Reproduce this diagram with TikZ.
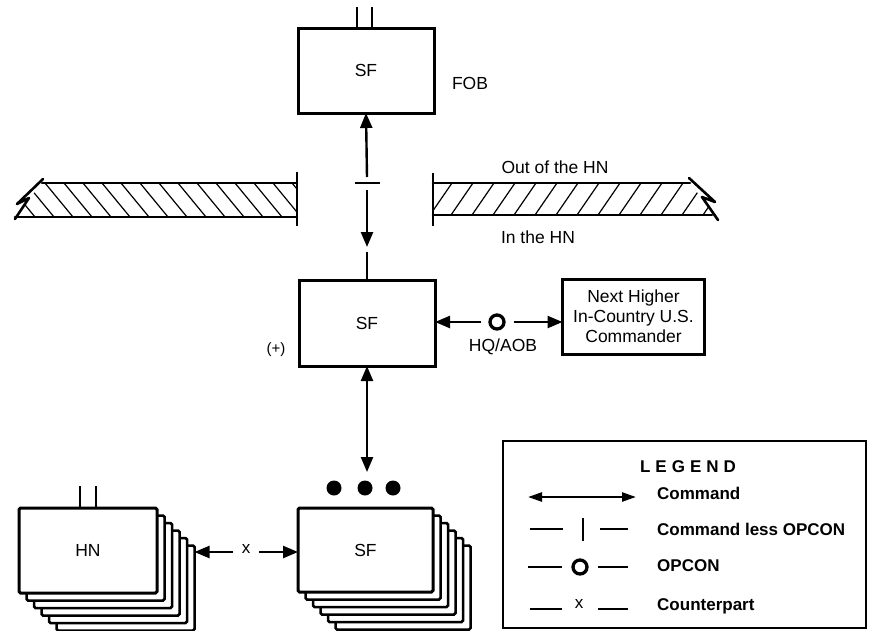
\documentclass[tikz,border=0pt]{standalone}
\usepackage{fontspec}
\setmainfont{Liberation Sans}
\usetikzlibrary{arrows.meta}
\begin{document}
\begin{tikzpicture}[x=1pt,y=-1pt,
  txt/.style={font=\fontsize{17.5}{21}\selectfont, inner sep=0pt},
  box/.style={draw, line width=3pt, fill=white, inner sep=0pt, outer sep=0pt, font=\fontsize{17.5}{21}\selectfont, align=center},
  card/.style={draw, line width=2.5pt, fill=white, inner sep=0pt, outer sep=0pt, rounded corners=1.5pt},
  leg/.style={font=\bfseries\fontsize{17}{21}\selectfont, inner sep=0pt, anchor=west},
  link/.style={line width=2.4pt},
  tk/.style={line width=2.8pt},
  edge/.style={line width=2.6pt, line cap=round, line join=round},
  hatch/.style={line width=1.2pt},
  tipe/.style={-{Triangle[length=15pt,width=12pt]}},
  both/.style={{Triangle[length=15pt,width=12pt]}-{Triangle[length=15pt,width=12pt]}},
  legboth/.style={{Triangle[length=14pt,width=9pt]}-{Triangle[length=14pt,width=9pt]}},
  opcon/.style={circle, draw, line width=3.3pt, minimum size=14pt, inner sep=0pt},
]
\useasboundingbox (0,0) rectangle (870,630);

% ---------- boundary bars ----------
\begin{scope}
  \clip (42,183) -- (297,183) -- (297,217) -- (15,217) -- cycle;
  \foreach \k in {0,...,17} \draw[hatch] (7+19*\k,183) -- ++(28,34);
\end{scope}
\draw[edge] (42,183) -- (297,183);
\draw[edge] (15,217) -- (297,217);
\draw[line width=2.8pt] (297,172) -- (297,226);
\draw[edge] (43,179) -- (17,204) -- (29,198) -- (15,219);

\begin{scope}
  \clip (433,183) -- (690,183) -- (714,215) -- (433,215) -- cycle;
  \foreach \k in {0,...,15} \draw[hatch] (430+21*\k,215) -- ++(22,-32);
\end{scope}
\draw[edge] (433,183) -- (690,183);
\draw[edge] (433,215) -- (712,215);
\draw[line width=2.8pt] (433,173) -- (433,226);
\draw[edge] (689,178) -- (715,202) -- (702,197) -- (718,220);

\node[txt] (out) at (555,167) {Out of the HN};
\node[txt] (in) at (538,237) {In the HN};

% ---------- top SF ----------
\node[box, minimum width=136pt, minimum height=85pt] (topsf) at (366,70.5) {SF};
\draw[tk] ([xshift=-9pt]topsf.north) -- ++(0,-21);
\draw[tk] ([xshift=6pt]topsf.north) -- ++(0,-21);
\node[txt] (fob) at (470,83) {FOB};

% ---------- middle SF ----------
\node[box, minimum width=136pt, minimum height=86pt] (midsf) at (367,323) {SF};
\node[txt, font=\fontsize{15}{18}\selectfont] (plus) at (276,350) {(+)};

\coordinate (a1) at (367,177);
\coordinate (a2) at (367,190);
\coordinate (a3) at (367,247);
\coordinate (a4) at (367,252);
\coordinate (tick) at (367,183);
\draw[link,tipe] (a1) -- (topsf.south);
\draw[tk] ([xshift=-12pt]tick) -- ([xshift=13pt]tick);
\draw[link,tipe] (a2) -- (a3);
\draw[link] (a4) -- (midsf.north);

% ---------- next higher ----------
\node[box, minimum width=142pt, minimum height=75pt] (nh) at (633.5,316.5)
  {Next Higher\\[-1pt]In-Country U.S.\\[-1pt]Commander};
\node[opcon] (opc) at (497,322) {};
\draw[link,tipe] ([xshift=-7pt]opc.west) -- (midsf.east |- opc);
\draw[link,tipe] ([xshift=8pt]opc.east) -- (nh.west |- opc);
\node[txt] (hq) at (503,347) {HQ/AOB};

% ---------- lower arrow and dots ----------
\coordinate (b1) at (367,472);
\draw[link,both] (midsf.south) -- (b1);
\foreach \x in {334, 365, 393}
  \fill (\x,488) circle[radius=7.5pt];

% ---------- SF stack ----------
\foreach \i in {5,4,3,2,1}
  \node[card, minimum width=135pt, minimum height=84pt] (sfl\i) at (365.5+7.5*\i,550+7.5*\i) {};
\node[box, minimum width=135pt, minimum height=84pt, rounded corners=1.5pt] (sfstack) at (365.5,550) {SF};

% ---------- HN stack ----------
\foreach \i in {5,4,3,2,1}
  \node[card, minimum width=138pt, minimum height=85pt] (hnl\i) at (88+7.5*\i,550.5+7.5*\i) {};
\node[box, minimum width=138pt, minimum height=85pt, rounded corners=1.5pt] (hnstack) at (88,550.5) {HN};
\draw[tk] ([xshift=-8pt]hnstack.north) -- ++(0,-22);
\draw[tk] ([xshift=8pt]hnstack.north) -- ++(0,-22);

% ---------- counterpart ----------
\node[txt, font=\fontsize{17}{18}\selectfont] (cx) at (246,549) {x};
\coordinate (c1) at (233,552);
\coordinate (c2) at (259,552);
\draw[link,tipe] (c1) -- (hnl5.east |- c1);
\draw[link,tipe] (c2) -- (sfstack.west |- c2);

% ---------- legend ----------
\node[draw, line width=1.5pt, minimum width=363pt, minimum height=187pt, inner sep=0pt] (legend) at (684.5,534.5) {};
\node[font=\bfseries\fontsize{17}{21}\selectfont, inner sep=0pt] (legt) at (688,467)
  {L\hspace{5pt}E\hspace{5pt}G\hspace{5pt}E\hspace{5pt}N\hspace{5pt}D};

\coordinate (l1a) at (528,497); \coordinate (l1b) at (636,497);
\draw[link,legboth] (l1a) -- (l1b);
\node[leg] (lcmd) at (657,493) {Command};

\coordinate (l2) at (583,529);
\draw[link] (530,529) -- (563,529);
\draw[tk] ([yshift=-12pt]l2) -- ([yshift=11pt]l2);
\draw[link] (600,529) -- (628,529);
\node[leg] (lcl) at (657,529) {Command less OPCON};

\node[opcon] (lo) at (580,567) {};
\draw[link] (528,567) -- (562,567);
\draw[link] (598,567) -- (628,567);
\node[leg] (lop) at (657,566) {OPCON};

\node[txt, font=\fontsize{17}{18}\selectfont] (lx) at (579,604) {x};
\draw[link] (530,609) -- (562,609);
\draw[link] (598,609) -- (628,609);
\node[leg] (lcp) at (657,606) {Counterpart};
\end{tikzpicture}
\end{document}
